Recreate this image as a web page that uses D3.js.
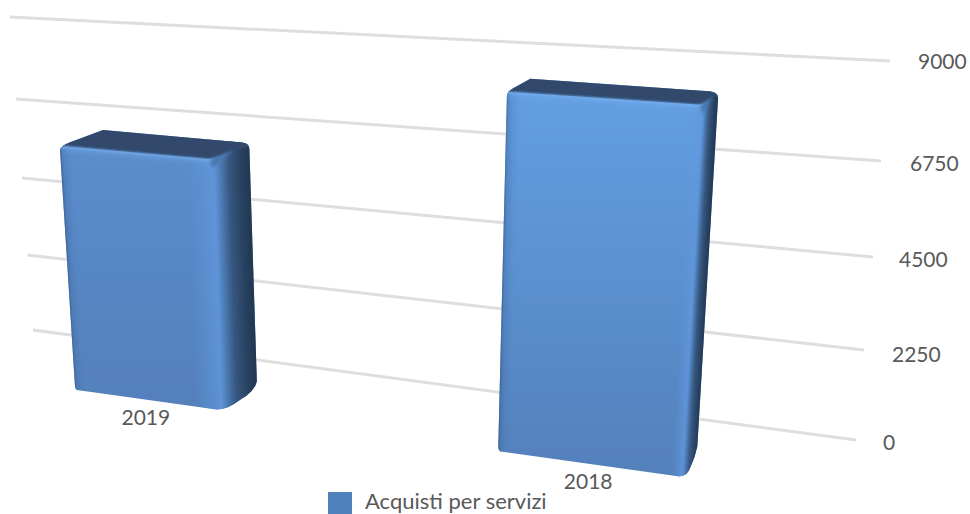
<!DOCTYPE html>
<html><head><meta charset="utf-8">
<script src="https://cdn.jsdelivr.net/npm/d3@7"></script>
<style>html,body{margin:0;padding:0;background:#fff;overflow:hidden}svg{display:block}text{font-family:Lato,"Open Sans",sans-serif;fill:#595959}</style>
</head><body><svg id="c" width="970" height="514"></svg>
<script>
const categories = ["2019", "2018"];
const values = [6000, 8100];
const ticks = [0, 2250, 4500, 6750, 9000];
const seriesName = "Acquisti per servizi";

const svg = d3.select("#c");
const defs = svg.append("defs");
defs.append("filter").attr("id","soft").attr("x","-5%").attr("y","-5%").attr("width","110%").attr("height","110%")
  .append("feGaussianBlur").attr("stdDeviation",0.5);
defs.append("filter").attr("id","glow").attr("x","-5%").attr("y","-200%").attr("width","110%").attr("height","500%")
  .append("feGaussianBlur").attr("stdDeviation",0.8);
defs.append("filter").attr("id","tabBlur").attr("x","-40%").attr("y","-40%").attr("width","180%").attr("height","180%")
  .append("feGaussianBlur").attr("stdDeviation",1.5);

// Back wall: perspective scales for the gridlines
const wallXL = d3.scaleLinear().domain(ticks).range([33,27.5,22,16,10]);
const wallYL = d3.scaleLinear().domain(ticks).range([330,255,178,99,17]);
const wallXR = d3.scaleLinear().domain(ticks).range([856,864,873,881,890]);
const wallYR = d3.scaleLinear().domain(ticks).range([440,350,257,161,61]);
const labelX = d3.scaleLinear().domain(ticks).range([883,892,899,910,918]);
const labelY = d3.scaleLinear().domain(ticks).range([442,354,259,163,61]);

svg.append("g").attr("filter","url(#soft)").selectAll("line").data(ticks).join("line")
  .attr("x1",d=>wallXL(d)).attr("y1",d=>wallYL(d)).attr("x2",d=>wallXR(d)).attr("y2",d=>wallYR(d))
  .attr("stroke","#dedede").attr("stroke-width",3);

svg.append("g").selectAll("text").data(ticks).join("text")
  .attr("x",d=>labelX(d)).attr("y",d=>labelY(d)).attr("dy","0.36em")
  .attr("font-size",21).text(d=>d);

// Front plane of the bars: bilinear perspective plane
const vMax = 8100;
const fXL = d3.scaleLinear().domain([0,vMax]).range([75,54.75]);
const fYL = d3.scaleLinear().domain([0,vMax]).range([389,61]);
const fXR = d3.scaleLinear().domain([0,vMax]).range([682,703]);
const fYR = d3.scaleLinear().domain([0,vMax]).range([477,105]);
const band = d3.scaleBand().domain(categories).range([0,1]).paddingInner(0.45);
const warp = d3.scaleLinear().domain([0,band.bandwidth(),1-band.bandwidth(),1]).range([0,0.24,0.6975,1]);
const depthX = d3.scaleLinear().domain([0,1]).range([43,15]);
const depthY = d3.scaleLinear().domain([0,vMax]).range([-25,-13]);

function front(u,v){ return [fXL(v)+u*(fXR(v)-fXL(v)), fYL(v)+u*(fYR(v)-fYL(v))]; }
function back(u,v){ const p=front(u,v); return [p[0]+depthX(u), p[1]+depthY(v)]; }
const mix=(a,b,t)=>[a[0]+(b[0]-a[0])*t,a[1]+(b[1]-a[1])*t];

function gradient(id,p,q,stops){
  const g=defs.append("linearGradient").attr("id",id).attr("gradientUnits","userSpaceOnUse")
    .attr("x1",p[0]).attr("y1",p[1]).attr("x2",q[0]).attr("y2",q[1]);
  stops.forEach(s=>g.append("stop").attr("offset",s[0]).attr("stop-color",s[1]).attr("stop-opacity",s[2]===undefined?1:s[2]));
}
// gradient across an edge direction: isolines run parallel to the bar's edge
function across(id,edgeA,edgeB,x0,x1,stops){
  const ex=edgeB[0]-edgeA[0], ey=edgeB[1]-edgeA[1], L=Math.hypot(ex,ey);
  let nx=-ey/L, ny=ex/L;
  const s=(Math.abs(nx)>Math.abs(ny)?nx:ny)<0?-1:1;
  nx*=s; ny*=s;
  const mid=[(edgeA[0]+edgeB[0])/2,(edgeA[1]+edgeB[1])/2];
  gradient(id,[mid[0]+nx*x0,mid[1]+ny*x0],[mid[0]+nx*x1,mid[1]+ny*x1],stops);
}

const bright = d3.scaleLinear().domain([6000,8100]).range(["#5b8dcd","#639fe3"]);

categories.forEach((cat,i)=>{
  const v=values[i];
  const u0=warp(band(cat)), u1=warp(band(cat)+band.bandwidth());
  const A=front(u0,v), B=front(u1,v), G=front(u0,0), F=front(u1,0);
  const D=back(u0,v), C=back(u1,v), E=back(u1,0);
  const gid="b"+i;

  const sil=d3.path();
  sil.moveTo(G[0]+2,G[1]+1);
  sil.quadraticCurveTo(G[0],G[1],G[0]-0.1,G[1]-4);
  sil.lineTo(A[0],A[1]+4);
  sil.quadraticCurveTo(A[0],A[1],...mix(A,D,0.25));
  sil.quadraticCurveTo(...mix(A,D,0.7),...D);
  const c1=mix(D,C,0.95);
  sil.lineTo(c1[0],c1[1]);
  sil.quadraticCurveTo(C[0],C[1],C[0]+0.1,C[1]+6);
  const e1=mix(C,E,0.985);
  sil.lineTo(e1[0],e1[1]);
  const fe=mix(F,E,0.5);
  sil.quadraticCurveTo(E[0]-2,E[1]+6,fe[0]+1,fe[1]+2.5);
  sil.quadraticCurveTo(F[0]+5,F[1]+1,F[0]-6,F[1]-0.9);
  sil.closePath();

  defs.append("clipPath").attr("id",gid+"clip").append("path").attr("d",sil.toString());

  const g=svg.append("g").attr("filter","url(#soft)");
  gradient(gid+"v",[0,A[1]],[0,F[1]],[[0,bright(v)],[1,"#5380bb"]]);
  g.append("path").attr("d",sil.toString()).attr("fill",`url(#${gid}v)`);

  const clip=g.append("g").attr("clip-path",`url(#${gid}clip)`);
  const box=`M0,0H970V514H0Z`;
  // left edge shading
  across(gid+"l",A,G,-1,14,[[0,"#2e4a70",0.85],[0.2,"#3f6aa0",0.4],[1,"#5a8ccb",0]]);
  clip.append("path").attr("d",box).attr("fill",`url(#${gid}l)`);
  // right bevel and side shading
  const w=C[0]-B[0];
  across(gid+"r",B,F,-w*0.7,w*1.03,[
    [0,"#6098de",0],[0.34,"#6098de",0.6],[0.42,"#5e94d8",0.95],[0.52,"#4c7ab3",1],[0.66,"#36577f",1],[0.85,"#284160",1],[1,"#203650",1]]);
  clip.append("path").attr("d",box).attr("fill",`url(#${gid}r)`);
  // bevel under the top face
  across(gid+"t",A,B,0,8,[[0,"#7fb4f0",0.3],[1,"#7fb4f0",0]]);
  const band1=d3.path();
  band1.moveTo(A[0],A[1]);band1.lineTo(B[0],B[1]);band1.lineTo(F[0],F[1]);band1.lineTo(G[0],G[1]);band1.closePath();
  clip.append("path").attr("d",band1.toString()).attr("fill",`url(#${gid}t)`);

  // top face
  const top=d3.path();
  top.moveTo(A[0],A[1]);
  const b1=mix(A,B,0.97);
  top.lineTo(b1[0],b1[1]);
  top.quadraticCurveTo(B[0]+2,B[1]-1,...mix(B,C,0.45));
  top.lineTo(C[0]+2,C[1]+3);
  top.lineTo(C[0]+2,C[1]-2);
  top.lineTo(D[0]-2,D[1]-4);
  top.lineTo(A[0]-3,A[1]-3);
  top.closePath();
  clip.append("path").attr("d",top.toString()).attr("fill","#30496c");
  // lighter rounded corner between top, front and side
  const tab=d3.path();
  tab.moveTo(B[0]-4,B[1]);tab.quadraticCurveTo(...mix(B,C,0.4),...mix(B,C,0.8));
  tab.lineTo(...mix(B,C,0.55));
  tab.quadraticCurveTo(B[0]+2,B[1]+6,B[0],B[1]+9);
  tab.closePath();
  clip.append("path").attr("d",tab.toString()).attr("fill","#4a78ae").attr("filter","url(#tabBlur)");
  // highlight along the top front edge
  clip.append("line").attr("x1",A[0]+2).attr("y1",A[1]+0.6).attr("x2",B[0]-1).attr("y2",B[1]+0.6)
    .attr("stroke","#74aef0").attr("stroke-width",1.6).attr("filter","url(#glow)");

  // category label
  const m=mix(G,F,0.5);
  svg.append("text").attr("x",m[0]-2).attr("y",m[1]+18).attr("dy","0.36em")
    .attr("text-anchor","middle").attr("font-size",21).text(cat);
});

// legend
const legend=svg.append("g");
legend.append("rect").attr("x",328).attr("y",492).attr("width",24).attr("height",22).attr("fill","#4f81bd");
legend.append("text").attr("x",365).attr("y",501).attr("dy","0.36em").attr("font-size",22).text(seriesName);
</script></body></html>
